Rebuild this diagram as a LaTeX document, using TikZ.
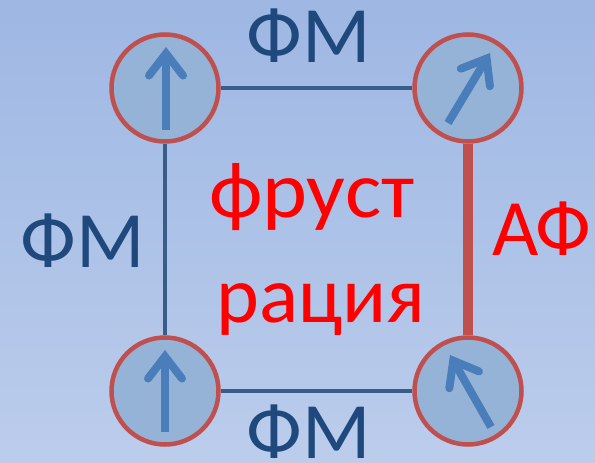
\documentclass[tikz,border=0pt]{standalone}
\usepackage{fontspec}
\setmainfont{Carlito}
\usepackage{tikz}
\usetikzlibrary{arrows.meta, calc}

\definecolor{bgtop}{RGB}{158,183,227}
\definecolor{bgbottom}{RGB}{188,205,236}
\definecolor{fmtext}{RGB}{31,73,125}
\definecolor{fmline}{RGB}{56,93,138}
\definecolor{siteedge}{RGB}{192,80,77}
\definecolor{sitefill}{RGB}{149,179,215}
\definecolor{spincol}{RGB}{74,126,187}
\definecolor{aftext}{RGB}{255,0,0}

\begin{document}
\begin{tikzpicture}[x=1pt, y=-1pt,
    site/.style={circle, draw=siteedge, fill=sitefill, line width=4.5pt,
      minimum size=107pt, inner sep=0pt},
    fmbond/.style={draw=fmline, line width=4pt},
    afbond/.style={draw=siteedge, line width=9.5pt},
    spin/.style={draw=spincol, line width=8pt,
      -{Straight Barb[length=22pt, width=34pt, line cap=round, line join=miter]}},
    big/.style={font=\fontsize{80}{96}\selectfont, inner sep=0pt}]
  \useasboundingbox (0,0) rectangle (595,463);
  \shade[top color=bgtop, bottom color=bgbottom] (0,0) rectangle (595,463);

  % four spins on a square plaquette
  \node[site] (s1) at (165,88) {};
  \node[site] (s2) at (468,88) {};
  \node[site] (s3) at (165,391) {};
  \node[site] (s4) at (468,391) {};

  \draw[fmbond] (s1) -- (s2);
  \draw[fmbond] (s1) -- (s3);
  \draw[fmbond] (s3) -- (s4);
  \draw[afbond] (s2) -- (s4);

  \draw[spin] ($(s1)+(1,42)$) -- ($(s1)+(1,-41)$);
  \draw[spin] ($(s3)+(0,41)$) -- ($(s3)+(0,-41)$);
  \draw[spin] ($(s2)+(-20,35)$) -- ($(s2)+(22,-35)$);
  \draw[spin] ($(s4)+(23,36)$) -- ($(s4)+(-18,-36)$);

  % bond labels
  \node[big, text=fmtext, anchor=base] (fmtop) at (309,62) {ФМ};
  \node[big, text=fmtext, anchor=base] (fmleft) at (83,267) {ФМ};
  \node[big, text=fmtext, anchor=base] (fmbot) at (309,458) {ФМ};
  \node[big, text=aftext, anchor=base] (af) at (542,255) {АФ};

  \node[big, text=aftext, anchor=base west] (fr1) at (209,217) {\scalebox{1.07}[1]{фруст}};
  \node[big, text=aftext, anchor=base west] (fr2) at (216,322) {\scalebox{1.02}[1]{рация}};
\end{tikzpicture}
\end{document}
